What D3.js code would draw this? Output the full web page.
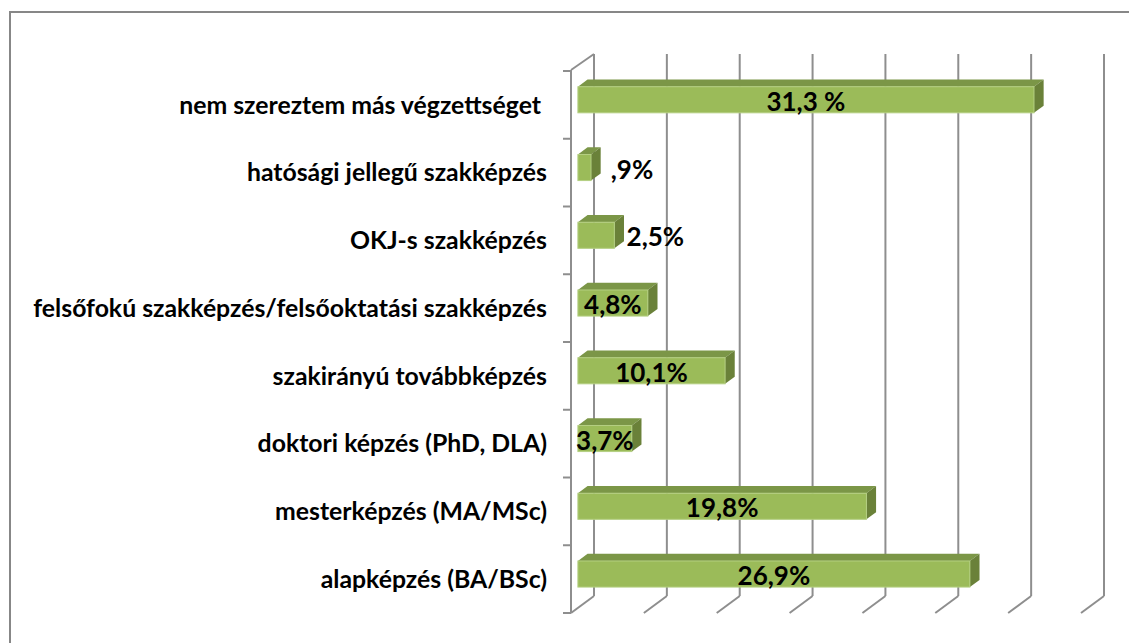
<!DOCTYPE html>
<html>
<head>
<meta charset="utf-8">
<script src="https://cdn.jsdelivr.net/npm/d3@7"></script>
<style>
  body { margin: 0; background: #fff; }
  text { font-family: Lato, "Open Sans", sans-serif; font-weight: bold; fill: #000; }
</style>
</head>
<body>
<script>
// data (top to bottom)
var categories = ["nem szereztem más végzettséget ", "hatósági jellegű szakképzés", "OKJ-s szakképzés",
    "felsőfokú szakképzés/felsőoktatási szakképzés", "szakirányú továbbképzés",
    "doktori képzés (PhD, DLA)", "mesterképzés (MA/MSc)", "alapképzés (BA/BSc)"];
var values = [31.3, 0.9, 2.5, 4.8, 10.1, 3.7, 19.8, 26.9];
var valueLabels = ["31,3 %", ",9%", "2,5%", "4,8%", "10,1%", "3,7%", "19,8%", "26,9%"];
var xTicks = [0, 5, 10, 15, 20, 25, 30, 35];

var width = 1129, height = 643;

var svg = d3.select("body").append("svg")
    .attr("width", width)
    .attr("height", height);

// outer frame
svg.append("rect")
    .attr("x", 10).attr("y", 12)
    .attr("width", 1140).attr("height", 660)
    .attr("fill", "none")
    .attr("stroke", "#878787")
    .attr("stroke-width", 2);

// front plane scales, depth shifts things up/right
var xScale = d3.scaleLinear().domain([0, 35]).range([571, 1081]);
var yScale = d3.scaleBand().domain(categories).range([71, 613]).paddingInner(0).paddingOuter(0);
var depthX = 23, depthY = -17;

function px(v, z) { return xScale(v) + z * depthX; }
function py(y, z) { return y + z * depthY; }

var gridColor = "#8e8e8e";
var grid = svg.append("g").attr("class", "grid");

// back wall gridlines + floor diagonals
xTicks.forEach(function(t) {
    var xb = px(t, 1);
    grid.append("line")
        .attr("x1", xb).attr("x2", xb)
        .attr("y1", py(yScale.range()[0], 1)).attr("y2", py(yScale.range()[1], 1))
        .attr("stroke", gridColor).attr("stroke-width", 2);
    grid.append("line")
        .attr("x1", xb).attr("y1", py(yScale.range()[1], 1))
        .attr("x2", px(t, 0)).attr("y2", yScale.range()[1])
        .attr("stroke", gridColor).attr("stroke-width", 2);
});

// left wall edge
var x0 = xScale(0);
grid.append("line")
    .attr("x1", x0).attr("x2", x0)
    .attr("y1", yScale.range()[0] - 1).attr("y2", yScale.range()[1])
    .attr("stroke", gridColor).attr("stroke-width", 2);
grid.append("line")
    .attr("x1", x0).attr("y1", yScale.range()[0] - 1)
    .attr("x2", px(0, 1)).attr("y2", py(yScale.range()[0], 1))
    .attr("stroke", gridColor).attr("stroke-width", 2);

// category ticks on the left
var bounds = categories.map(function(c) { return yScale(c); }).concat([yScale.range()[1]]);
grid.selectAll(".tick")
    .data(bounds)
    .enter().append("line")
    .attr("x1", x0 - 8).attr("x2", x0)
    .attr("y1", function(d) { return d; }).attr("y2", function(d) { return d; })
    .attr("stroke", gridColor).attr("stroke-width", 2);

// 3d bars
var zf = 0.3, zb = 0.72, barFrac = 0.385;
var bars = svg.append("g").attr("class", "bars");

categories.forEach(function(c, i) {
    var v = values[i];
    var cy = yScale(c) + yScale.bandwidth() / 2;
    var h = yScale.bandwidth() * barFrac;
    var top = cy - h / 2, bot = cy + h / 2;
    var xl = px(0, zf), xr = px(v, zf);
    var dx = (zb - zf) * depthX, dy = (zb - zf) * depthY;
    var yt = py(top, zf), yb = py(bot, zf);

    // top face
    bars.append("path")
        .attr("d", d3.line()([[xl, yt], [xl + dx, yt + dy], [xr + dx, yt + dy], [xr, yt]]) + "Z")
        .attr("fill", "#7b9647");
    // side face
    bars.append("path")
        .attr("d", d3.line()([[xr, yt], [xr + dx, yt + dy], [xr + dx, yb + dy], [xr, yb]]) + "Z")
        .attr("fill", "#6a8139");
    // front face
    bars.append("rect")
        .attr("x", xl).attr("y", yt)
        .attr("width", xr - xl).attr("height", yb - yt)
        .attr("fill", "#9bbb59")
        .attr("stroke", "#b4cf82").attr("stroke-width", 1);

    // value label
    var inside = v >= 3;
    bars.append("text")
        .attr("x", inside ? (xl + xr) / 2 : xr + 41)
        .attr("y", cy - 3)
        .attr("dy", "0.35em")
        .attr("text-anchor", "middle")
        .attr("font-size", "26px")
        .style("white-space", "pre")
        .text(valueLabels[i]);
});

// category labels
svg.append("g").attr("class", "cats")
    .selectAll("text")
    .data(categories)
    .enter().append("text")
    .attr("x", 547)
    .attr("y", function(d) { return yScale(d) + yScale.bandwidth() / 2; })
    .attr("dy", "0.35em")
    .attr("text-anchor", "end")
    .attr("font-size", "24.8px")
    .style("white-space", "pre")
    .text(function(d) { return d; });
</script>
</body>
</html>
